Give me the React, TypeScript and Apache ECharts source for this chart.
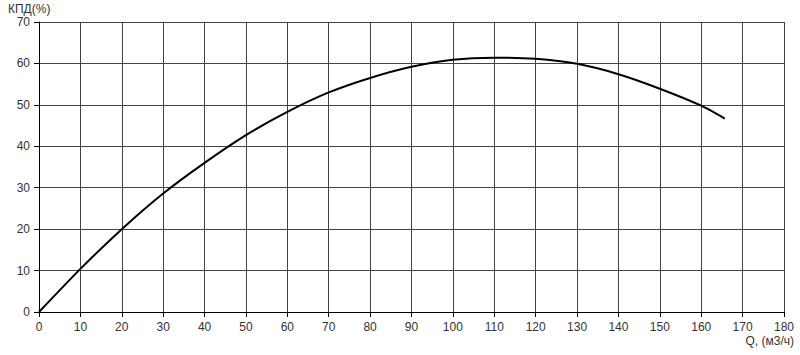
import React, { useEffect, useRef } from "react";
import * as echarts from "echarts";

const flowQ = [0, 10, 20, 30, 40, 50, 60, 70, 80, 90, 100, 110, 120, 130, 140, 150, 160, 165.7];
const efficiency = [0, 10.4, 20, 28.6, 36, 42.7, 48.3, 53, 56.5, 59.2, 60.9, 61.4, 61.1, 59.9, 57.4, 53.9, 49.8, 46.7];
const xName = "Q, (м3/ч)";
const yName = "КПД(%)";

export default function App() {
  const ref = useRef<HTMLDivElement>(null);
  useEffect(() => {
    const chart = echarts.init(ref.current!, null, { renderer: "svg" });
    const font = "Liberation Sans, Arial, sans-serif";
    chart.setOption({
      animation: false,
      backgroundColor: "#fff",
      grid: { left: 39, right: 16, top: 22, bottom: 43, containLabel: false },
      graphic: [
        { type: "text", left: 8, top: 3, style: { text: yName, fill: "#333", font: `12px ${font}` } },
        { type: "text", right: 6, top: 335, style: { text: xName, fill: "#333", font: `12px ${font}` } },
      ],
      xAxis: {
        type: "value",
        min: 0,
        max: 180,
        interval: 10,
        axisLine: { show: true, lineStyle: { color: "#000", width: 1 } },
        axisTick: { show: true, length: 5, lineStyle: { color: "#000" } },
        axisLabel: { color: "#333", fontSize: 12, fontFamily: font, margin: 9 },
        splitLine: { show: true, lineStyle: { color: "#444", width: 1 } },
      },
      yAxis: {
        type: "value",
        min: 0,
        max: 70,
        interval: 10,
        axisLine: { show: true, lineStyle: { color: "#000", width: 1 } },
        axisTick: { show: true, length: 5, lineStyle: { color: "#000" } },
        axisLabel: { color: "#333", fontSize: 12, fontFamily: font, margin: 9 },
        splitLine: { show: true, lineStyle: { color: "#444", width: 1 } },
      },
      series: [
        {
          type: "line",
          data: flowQ.map((q, i) => [q, efficiency[i]]),
          smooth: 0.2,
          showSymbol: false,
          lineStyle: { color: "#000", width: 2 },
        },
      ],
    });
    return () => chart.dispose();
  }, []);
  return <div ref={ref} style={{ width: 800, height: 355, position: "absolute", left: 0, top: 0 }} />;
}
